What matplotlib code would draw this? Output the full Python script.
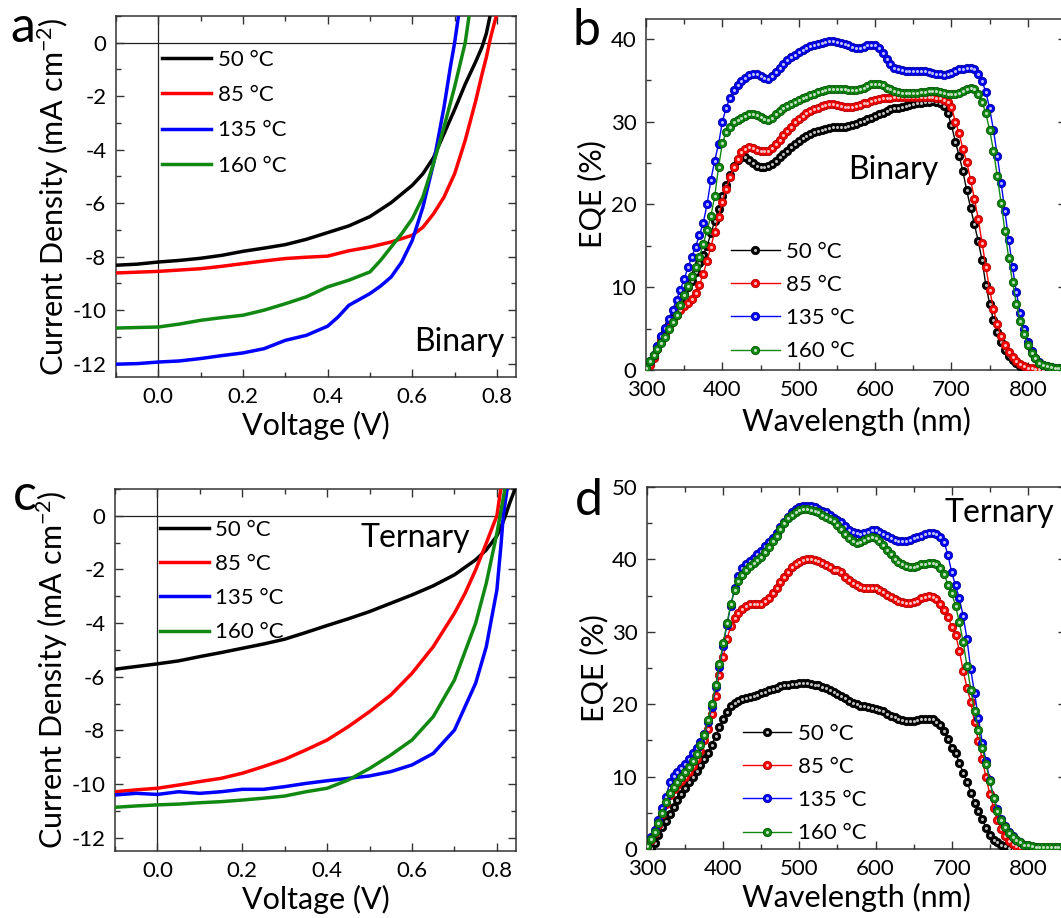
import matplotlib
matplotlib.use("Agg")
import matplotlib.pyplot as plt
import numpy as np
from matplotlib.legend_handler import HandlerTuple
from matplotlib.ticker import MultipleLocator, FormatStrFormatter

plt.rcParams["font.family"] = ["Lato", "DejaVu Sans"]
plt.rcParams["mathtext.default"] = "regular"
plt.rcParams["axes.unicode_minus"] = False

LABELS = ["50 °C", "85 °C", "135 °C", "160 °C"]
COLORS = ["#000000", "#ff0000", "#0000ff", "#118811"]
EDGES = ["#000000", "#b00000", "#0000a0", "#005500"]

# ---- panel a: J-V, binary ----
A_V = [
    [-0.1, -0.05, 0, 0.05, 0.1, 0.15, 0.2, 0.25, 0.3, 0.35, 0.4, 0.45, 0.5, 0.55, 0.6,
     0.625, 0.65, 0.675, 0.7, 0.725, 0.75, 0.765, 0.775, 0.785],
    [-0.1, -0.05, 0, 0.05, 0.1, 0.15, 0.2, 0.25, 0.3, 0.35, 0.4, 0.45, 0.5, 0.55, 0.6,
     0.625, 0.65, 0.675, 0.7, 0.725, 0.75, 0.765, 0.775, 0.785, 0.8],
    [-0.1, -0.05, 0, 0.05, 0.1, 0.15, 0.2, 0.25, 0.3, 0.35, 0.4, 0.425, 0.45, 0.475, 0.5,
     0.525, 0.55, 0.575, 0.6, 0.625, 0.65, 0.675, 0.69, 0.7, 0.71],
    [-0.1, -0.05, 0, 0.05, 0.1, 0.15, 0.2, 0.25, 0.3, 0.35, 0.4, 0.45, 0.5, 0.525, 0.55,
     0.575, 0.6, 0.625, 0.65, 0.675, 0.7, 0.715, 0.725, 0.735],
]
A_J = [
    [-8.32, -8.28, -8.2, -8.14, -8.06, -7.95, -7.8, -7.68, -7.55, -7.35, -7.1, -6.85, -6.5,
     -5.98, -5.33, -4.9, -4.3, -3.4, -2.5, -1.55, -0.7, -0.15, 0.35, 1.1],
    [-8.61, -8.58, -8.55, -8.5, -8.45, -8.36, -8.26, -8.16, -8.07, -8.02, -7.98, -7.78, -7.64,
     -7.45, -7.2, -6.9, -6.4, -5.77, -4.9, -3.65, -2.16, -1.16, -0.54, 0.2, 1.1],
    [-12.02, -12.0, -11.94, -11.9, -11.81, -11.7, -11.6, -11.44, -11.13, -10.94, -10.6, -10.25,
     -9.82, -9.6, -9.38, -9.1, -8.76, -8.2, -7.39, -6.15, -4.52, -2.4, -0.9, 0.0, 1.1],
    [-10.67, -10.65, -10.63, -10.52, -10.38, -10.28, -10.19, -10.0, -9.76, -9.5, -9.13, -8.88,
     -8.57, -8.14, -7.64, -7.14, -6.58, -5.77, -4.52, -3.15, -1.65, -0.66, 0.0, 1.1],
]

# ---- panel c: J-V, ternary ----
C_V = [
    [-0.1, -0.05, 0, 0.05, 0.1, 0.15, 0.2, 0.25, 0.3, 0.35, 0.4, 0.45, 0.5, 0.55, 0.6, 0.65,
     0.7, 0.75, 0.775, 0.8, 0.81, 0.82, 0.83, 0.845],
    [-0.1, -0.05, 0, 0.05, 0.1, 0.15, 0.2, 0.25, 0.3, 0.35, 0.4, 0.45, 0.5, 0.55, 0.6, 0.65,
     0.7, 0.725, 0.75, 0.775, 0.79, 0.8, 0.81],
    [-0.1, -0.05, 0, 0.05, 0.1, 0.15, 0.2, 0.25, 0.3, 0.35, 0.4, 0.45, 0.5, 0.55, 0.6, 0.65,
     0.7, 0.75, 0.775, 0.8, 0.81, 0.815, 0.825],
    [-0.1, -0.05, 0, 0.05, 0.1, 0.15, 0.2, 0.25, 0.3, 0.35, 0.4, 0.45, 0.5, 0.55, 0.6, 0.65,
     0.7, 0.75, 0.775, 0.8, 0.81, 0.82],
]
C_J = [
    [-5.72, -5.62, -5.52, -5.41, -5.25, -5.1, -4.94, -4.78, -4.6, -4.35, -4.09, -3.84, -3.57,
     -3.26, -2.95, -2.61, -2.2, -1.64, -1.27, -0.75, -0.4, 0.0, 0.47, 1.1],
    [-10.29, -10.22, -10.16, -10.04, -9.91, -9.79, -9.6, -9.35, -9.08, -8.73, -8.36, -7.86,
     -7.3, -6.68, -5.87, -4.88, -3.63, -2.89, -2.01, -1.02, -0.4, 0.0, 1.1],
    [-10.41, -10.35, -10.39, -10.29, -10.35, -10.29, -10.2, -10.2, -10.1, -9.98, -9.88, -9.79,
     -9.7, -9.54, -9.29, -8.86, -7.99, -6.24, -4.88, -2.76, -1.02, 0.0, 1.1],
    [-10.87, -10.82, -10.78, -10.75, -10.7, -10.66, -10.6, -10.53, -10.45, -10.29, -10.16,
     -9.85, -9.42, -8.92, -8.36, -7.49, -6.12, -4.0, -2.51, -0.65, 0.22, 1.1],
]

# ---- EQE wavelength grid (nm) ----
WL = np.arange(300, 851, 5)

# ---- panel b: EQE, binary ----
B_EQE = [
    [0.0, 0.7, 1.6, 2.8, 4.0, 4.8, 5.5, 6.4, 7.4, 8.3,
     9.2, 10.0, 10.8, 11.8, 12.9, 13.9, 15.0, 16.5, 18.0, 19.5,
     21.0, 22.4, 23.6, 24.7, 25.4, 25.7, 25.7, 25.4, 25.0, 24.7,
     24.5, 24.5, 24.6, 24.9, 25.3, 25.7, 26.1, 26.5, 26.9, 27.3,
     27.7, 28.0, 28.3, 28.5, 28.7, 28.9, 29.0, 29.1, 29.2, 29.3,
     29.3, 29.4, 29.4, 29.5, 29.6, 29.7, 29.9, 30.1, 30.3, 30.5,
     30.7, 30.9, 31.1, 31.3, 31.5, 31.6, 31.7, 31.8, 31.9, 32.0,
     32.1, 32.2, 32.3, 32.4, 32.4, 32.5, 32.4, 32.2, 31.9, 31.0,
     29.6, 27.6, 25.9, 24.0, 21.7, 19.6, 17.6, 15.6, 13.3, 10.3,
     8.0, 6.0, 4.6, 3.4, 2.4, 1.7, 1.2, 0.8, 0.5, 0.3,
     0.2, 0.1, 0.1, 0.1, 0.1, 0.1, 0.1, 0.1, 0.1, 0.1,
     0.1],
    [0.0, 0.6, 1.5, 2.5, 3.5, 4.4, 5.2, 6.0, 6.7, 7.2,
     7.7, 8.1, 8.6, 9.3, 10.3, 11.6, 13.2, 14.9, 16.7, 18.5,
     20.3, 21.9, 23.3, 24.5, 25.5, 26.3, 26.7, 26.9, 26.8, 26.6,
     26.4, 26.4, 26.5, 26.8, 27.3, 27.8, 28.4, 28.9, 29.4, 29.9,
     30.3, 30.7, 31.0, 31.3, 31.5, 31.7, 31.9, 32.0, 32.1, 32.1,
     32.0, 31.9, 31.8, 31.8, 31.8, 31.9, 32.0, 32.2, 32.3, 32.5,
     32.6, 32.7, 32.8, 32.9, 32.9, 33.0, 33.0, 33.0, 33.0, 33.0,
     33.0, 33.0, 33.0, 33.0, 33.0, 33.0, 32.9, 32.8, 32.6, 32.4,
     31.8, 30.0, 28.6, 26.7, 25.1, 23.0, 20.7, 18.3, 15.4, 12.5,
     9.7, 7.4, 5.5, 4.1, 3.0, 2.2, 1.6, 1.1, 0.7, 0.45,
     0.3, 0.2, 0.15, 0.1, 0.05, 0.05, 0.05, 0.05, 0.05, 0.05,
     0.05],
    [0.2, 1.1, 1.8, 2.9, 4.1, 5.1, 6.2, 7.3, 8.5, 9.7,
     11.0, 12.4, 13.7, 14.9, 16.3, 17.8, 20.0, 23.0, 25.3, 27.3,
     30.0, 31.7, 32.9, 33.8, 34.4, 34.9, 35.3, 35.6, 35.7, 35.7,
     35.5, 35.3, 35.2, 35.5, 36.0, 36.5, 37.0, 37.4, 37.8, 38.1,
     38.4, 38.7, 38.9, 39.1, 39.3, 39.4, 39.5, 39.6, 39.7, 39.7,
     39.6, 39.5, 39.4, 39.2, 39.0, 38.9, 38.9, 39.0, 39.2, 39.3,
     39.2, 38.9, 38.3, 37.6, 37.0, 36.5, 36.3, 36.2, 36.1, 36.1,
     36.1, 36.1, 36.1, 36.1, 36.0, 35.9, 35.8, 35.7, 35.6, 35.7,
     35.9, 36.1, 36.3, 36.4, 36.5, 36.5, 36.3, 35.8, 34.9, 33.6,
     31.6, 29.0, 25.9, 22.6, 19.2, 15.7, 12.4, 9.4, 6.9, 4.9,
     3.4, 2.3, 1.5, 1.0, 0.65, 0.45, 0.35, 0.3, 0.25, 0.2,
     0.2],
    [0.3, 1.1, 1.8, 2.5, 3.3, 4.0, 4.9, 5.8, 6.7, 7.8,
     9.0, 10.1, 11.3, 12.5, 13.7, 15.2, 16.9, 18.6, 21.0, 24.5,
     27.4, 28.7, 29.4, 29.9, 30.2, 30.5, 30.7, 30.9, 30.9, 30.8,
     30.6, 30.3, 30.2, 30.5, 30.9, 31.3, 31.6, 31.9, 32.1, 32.4,
     32.6, 32.8, 33.0, 33.2, 33.4, 33.6, 33.7, 33.8, 33.9, 34.0,
     34.0, 34.0, 33.9, 33.8, 33.8, 33.8, 33.9, 34.1, 34.3, 34.5,
     34.6, 34.6, 34.4, 34.1, 33.9, 33.7, 33.6, 33.5, 33.5, 33.5,
     33.5, 33.5, 33.6, 33.6, 33.7, 33.7, 33.7, 33.6, 33.5, 33.4,
     33.3, 33.4, 33.5, 33.7, 33.9, 34.1, 34.0, 33.3, 32.4, 31.0,
     29.0, 26.5, 23.4, 20.2, 16.8, 13.5, 10.6, 8.0, 5.9, 4.3,
     3.0, 2.1, 1.4, 0.9, 0.6, 0.45, 0.35, 0.3, 0.25, 0.2,
     0.2],
]

# ---- panel d: EQE, ternary ----
D_EQE = [
    [0.0, 0.2, 0.8, 1.9, 3.0, 3.9, 4.8, 5.8, 6.8, 7.6,
     8.4, 9.2, 10.0, 10.8, 11.6, 12.4, 13.3, 14.4, 15.6, 16.8,
     17.9, 18.9, 19.7, 20.2, 20.5, 20.7, 20.9, 21.0, 21.2, 21.3,
     21.5, 21.7, 21.9, 22.1, 22.3, 22.5, 22.6, 22.7, 22.8, 22.8,
     22.9, 22.9, 22.9, 22.8, 22.7, 22.6, 22.4, 22.2, 22.0, 21.7,
     21.4, 21.1, 20.8, 20.5, 20.2, 20.0, 19.8, 19.7, 19.6, 19.5,
     19.4, 19.2, 19.0, 18.7, 18.4, 18.2, 18.0, 17.8, 17.7, 17.7,
     17.7, 17.8, 17.9, 18.0, 18.0, 17.9, 17.6, 17.1, 16.3, 15.2,
     14.0, 13.2, 11.9, 10.5, 9.3, 7.8, 6.4, 5.3, 4.2, 2.9,
     2.0, 1.3, 0.9, 0.6, 0.35, 0.15, 0.05, 0.0, 0.0, 0.0,
     0.0, 0.0, 0.0, 0.0, 0.0, 0.0, 0.0, 0.0, 0.0, 0.0,
     0.0],
    [0.3, 1.2, 2.2, 3.3, 4.8, 6.2, 7.5, 8.3, 8.9, 9.4,
     10.0, 10.7, 11.5, 12.4, 13.6, 15.0, 16.6, 18.6, 21.2, 24.0,
     26.5, 29.0, 30.8, 31.9, 32.6, 33.2, 33.6, 33.8, 33.8, 33.8,
     33.9, 34.2, 34.7, 35.3, 36.1, 36.9, 37.6, 38.3, 38.9, 39.4,
     39.7, 39.9, 40.0, 40.0, 39.9, 39.8, 39.5, 39.2, 38.9, 38.5,
     38.6, 38.2, 37.6, 37.1, 36.7, 36.5, 36.2, 36.0, 36.0, 36.0,
     36.0, 35.8, 35.5, 35.1, 34.8, 34.5, 34.3, 34.1, 34.0, 34.0,
     34.1, 34.3, 34.6, 34.8, 34.9, 34.8, 34.5, 33.9, 33.0, 32.0,
     30.7, 29.6, 27.4, 24.6, 22.3, 20.3, 17.5, 14.9, 12.4, 9.9,
     7.6, 5.7, 4.0, 2.8, 1.8, 1.1, 0.7, 0.4, 0.3, 0.2,
     0.2, 0.2, 0.2, 0.2, 0.2, 0.2, 0.2, 0.2, 0.2, 0.2,
     0.2],
    [0.4, 1.6, 2.6, 4.0, 5.6, 7.2, 9.3, 10.1, 10.6, 11.2,
     11.8, 12.5, 13.2, 14.0, 14.8, 15.9, 17.5, 19.6, 22.4, 25.2,
     28.1, 31.0, 33.6, 36.0, 37.7, 38.8, 39.4, 39.8, 40.2, 40.7,
     41.2, 41.8, 42.4, 43.0, 43.7, 44.5, 45.2, 45.9, 46.5, 46.9,
     47.2, 47.4, 47.4, 47.4, 47.2, 47.0, 46.7, 46.5, 46.1, 45.7,
     45.5, 45.1, 44.6, 44.1, 43.8, 43.6, 43.5, 43.6, 43.8, 44.0,
     44.0, 43.8, 43.5, 43.2, 42.9, 42.7, 42.6, 42.6, 42.6, 42.7,
     42.9, 43.1, 43.3, 43.5, 43.6, 43.6, 43.5, 43.1, 42.4, 40.6,
     38.2, 36.4, 34.6, 32.2, 29.0, 24.8, 21.5, 18.1, 14.7, 12.2,
     9.5, 7.1, 5.5, 4.2, 3.2, 2.4, 1.8, 1.3, 0.9, 0.6,
     0.4, 0.3, 0.25, 0.2, 0.2, 0.2, 0.2, 0.2, 0.2, 0.2,
     0.2],
    [0.4, 1.4, 2.4, 3.6, 5.0, 6.5, 7.8, 8.6, 9.3, 9.9,
     10.6, 11.3, 12.1, 13.1, 14.3, 15.8, 17.8, 20.0, 22.6, 25.5,
     28.4, 31.2, 33.8, 35.8, 37.0, 37.9, 38.6, 39.1, 39.5, 39.9,
     40.4, 41.0, 41.7, 42.5, 43.3, 44.2, 45.0, 45.7, 46.2, 46.6,
     46.8, 46.9, 46.9, 46.8, 46.7, 46.5, 46.2, 45.9, 45.6, 45.3,
     44.8, 44.2, 43.5, 42.9, 42.5, 42.3, 42.4, 42.7, 43.0, 43.1,
     43.0, 42.6, 42.0, 41.3, 40.7, 40.1, 39.7, 39.3, 39.1, 39.0,
     39.0, 39.1, 39.3, 39.4, 39.5, 39.5, 39.3, 38.8, 38.0, 36.5,
     35.3, 33.6, 31.3, 28.6, 25.3, 22.0, 19.0, 16.5, 14.0, 11.7,
     9.4, 7.0, 5.3, 4.0, 3.0, 2.2, 1.6, 1.2, 0.9, 0.6,
     0.5, 0.4, 0.3, 0.3, 0.3, 0.3, 0.3, 0.3, 0.3, 0.3,
     0.3],
]

W, H = 1061, 918
TICK_FS = 16
LABEL_FS = 22
LEG_FS = 16


def px_axes(fig, left, top, right, bottom):
    return fig.add_axes([left / W, 1 - bottom / H, (right - left) / W, (bottom - top) / H])


def style_axes(ax):
    for s in ax.spines.values():
        s.set_linewidth(1.1)
        s.set_color("#333333")
    ax.tick_params(which="both", direction="in", top=True, right=True,
                   width=1.0, color="#333333", labelsize=TICK_FS, pad=7)
    ax.tick_params(which="major", length=6)
    ax.tick_params(which="minor", length=3.5)


def jv_panel(ax, vs, js, tag, tag_xy, tag_ha):
    ax.axhline(0, color="#222222", lw=0.9, zorder=1)
    ax.axvline(0, color="#222222", lw=0.9, zorder=1)
    handles = []
    for v, j, c in zip(vs, js, COLORS):
        (ln,) = ax.plot(v, j, color=c, lw=2.5, zorder=3)
        handles.append(ln)
    ax.set_xlim(-0.1, 0.845)
    ax.set_ylim(-12.5, 1.0)
    ax.xaxis.set_major_locator(MultipleLocator(0.2))
    ax.xaxis.set_minor_locator(MultipleLocator(0.1))
    ax.xaxis.set_major_formatter(FormatStrFormatter("%.1f"))
    ax.yaxis.set_major_locator(MultipleLocator(2))
    ax.yaxis.set_minor_locator(MultipleLocator(1))
    ax.set_xlabel("Voltage (V)", fontsize=LABEL_FS)
    ax.set_ylabel("Current Density (mA cm$^{-2}$)", fontsize=LABEL_FS)
    ax.text(tag_xy[0], tag_xy[1], tag, transform=ax.transAxes, fontsize=23,
            ha=tag_ha, va="center")
    style_axes(ax)
    return handles


def eqe_panel(ax, series, tag, tag_xy, ymax, ystep):
    handles = []
    for y, c, e in zip(series, COLORS, EDGES):
        (ln,) = ax.plot(WL, y, color=c, lw=1.0, marker="o", ms=6, mfc=c, mec=e,
                        mew=0.6, zorder=3)
        (hl,) = ax.plot(WL, y, ls="none", marker="o", ms=2.2, mfc="white",
                        mec="none", alpha=0.75, zorder=3)
        handles.append((ln, hl))
    ax.set_xlim(300, 850)
    ax.set_ylim(0, ymax)
    ax.xaxis.set_major_locator(MultipleLocator(100))
    ax.xaxis.set_minor_locator(MultipleLocator(50))
    ax.yaxis.set_major_locator(MultipleLocator(ystep))
    ax.yaxis.set_minor_locator(MultipleLocator(ystep / 2))
    ax.set_xlabel("Wavelength (nm)", fontsize=LABEL_FS)
    ax.set_ylabel("EQE (%)", fontsize=LABEL_FS)
    ax.text(tag_xy[0], tag_xy[1], tag, transform=ax.transAxes, fontsize=23,
            ha="center", va="center")
    style_axes(ax)
    return handles


def add_legend(ax, handles, anchor, spacing, tuples=False):
    kw = dict(loc="upper left", bbox_to_anchor=anchor, frameon=False, fontsize=LEG_FS,
              handlelength=2.2, handletextpad=0.3, labelspacing=spacing,
              borderpad=0, borderaxespad=0)
    if tuples:
        kw["handler_map"] = {tuple: HandlerTuple(ndivide=1)}
    ax.legend(handles, LABELS, **kw)


fig = plt.figure(figsize=(W / 100, H / 100), dpi=100)

ax_a = px_axes(fig, 116, 16, 516, 377)
ha = jv_panel(ax_a, A_V, A_J, "Binary", (0.97, 0.097), "right")
add_legend(ax_a, ha, (0.115, 0.906), 0.685)
ax_a.yaxis.set_label_coords(-0.112, 0.5)
ax_a.xaxis.set_label_coords(0.5, -0.095)

ax_c = px_axes(fig, 115, 489, 516, 851)
hc = jv_panel(ax_c, C_V, C_J, "Ternary", (0.749, 0.865), "center")
add_legend(ax_c, hc, (0.112, 0.915), 0.64)
ax_c.yaxis.set_label_coords(-0.113, 0.5)
ax_c.xaxis.set_label_coords(0.5, -0.095)

ax_b = px_axes(fig, 646, 19, 1066, 370)
hb = eqe_panel(ax_b, B_EQE, "Binary", (0.589, 0.57), 42.4, 10)
add_legend(ax_b, hb, (0.202, 0.3655), 0.595, tuples=True)
ax_b.yaxis.set_label_coords(-0.095, 0.5)
ax_b.xaxis.set_label_coords(0.5, -0.105)

ax_d = px_axes(fig, 647, 487, 1066, 849)
hd = eqe_panel(ax_d, D_EQE, "Ternary", (0.842, 0.928), 50, 10)
add_legend(ax_d, hd, (0.228, 0.346), 0.595, tuples=True)
ax_d.yaxis.set_label_coords(-0.092, 0.5)
ax_d.xaxis.set_label_coords(0.5, -0.095)

for letter, x, y in [("a", 10, 42), ("b", 573, 45), ("c", 13, 510), ("d", 575, 515)]:
    fig.text(x / W, 1 - y / H, letter, fontsize=36, ha="left", va="baseline")

fig.savefig("out.png", dpi=100)
